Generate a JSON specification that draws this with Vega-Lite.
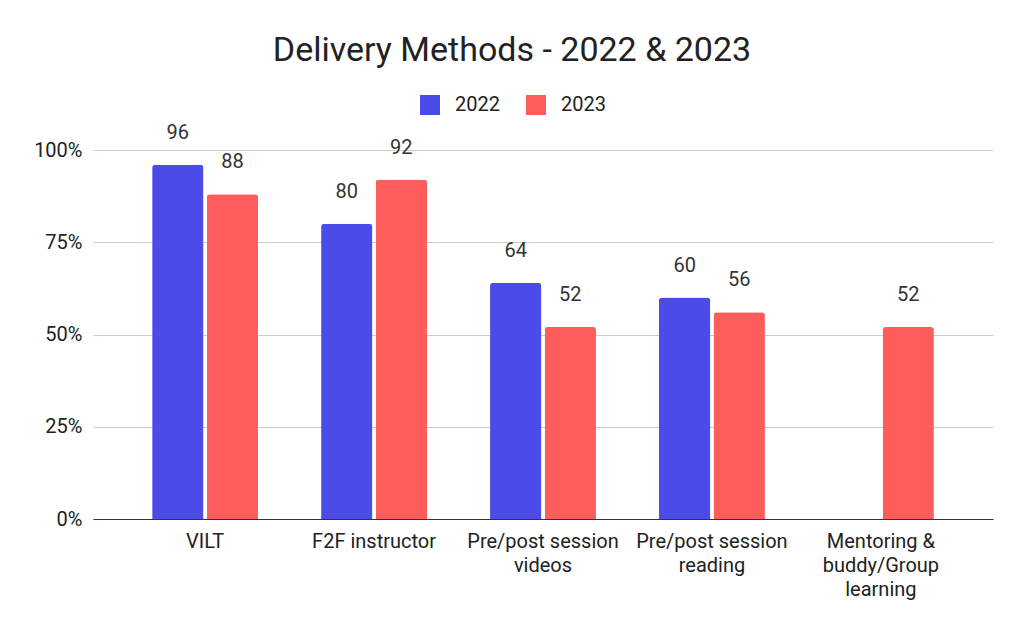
{
  "$schema": "https://vega.github.io/schema/vega-lite/v6.json",
  "width": 900,
  "height": 369,
  "autosize": {"type": "none"},
  "padding": {"left": 93, "top": 150, "right": 31, "bottom": 114},
  "config": {"font": "Roboto", "view": {"stroke": null}},
  "title": {"text": "Delivery Methods - 2022 & 2023", "fontSize": 34, "fontWeight": "normal", "color": "#222", "anchor": "middle", "frame": "group", "dx": -31, "offset": 0, "baseline": "alphabetic"},
  "data": {"values": [
    {"method": "VILT", "year": "2022", "value": 96},
    {"method": "VILT", "year": "2023", "value": 88},
    {"method": "F2F instructor", "year": "2022", "value": 80},
    {"method": "F2F instructor", "year": "2023", "value": 92},
    {"method": "Pre/post session|videos", "year": "2022", "value": 64},
    {"method": "Pre/post session|videos", "year": "2023", "value": 52},
    {"method": "Pre/post session|reading", "year": "2022", "value": 60},
    {"method": "Pre/post session|reading", "year": "2023", "value": 56},
    {"method": "Mentoring &|buddy/Group|learning", "year": "2023", "value": 52}
  ]},
  "encoding": {
    "x": {"field": "method", "type": "nominal", "sort": null,
      "scale": {"paddingInner": 0.373, "paddingOuter": 0.35},
      "axis": {"title": null, "labelAngle": 0, "labelExpr": "split(datum.label, '|')", "labelFontSize": 20, "labelColor": "#222", "ticks": false, "domainColor": "#333", "labelPadding": 12, "labelLineHeight": 24, "labelBaseline": "top", "labelLimit": 300}},
    "xOffset": {"field": "year", "type": "nominal", "scale": {"domain": ["2022", "2023"], "paddingInner": 0.06}},
    "y": {"field": "value", "type": "quantitative", "scale": {"domain": [0, 100]},
      "axis": {"title": null, "values": [0, 25, 50, 75, 100], "labelExpr": "datum.value + '%'", "labelFontSize": 20, "labelColor": "#222", "ticks": false, "domain": false, "gridColor": "#cccccc", "labelPadding": 11}}
  },
  "layer": [
    {"mark": {"type": "bar", "cornerRadiusTopLeft": 3, "cornerRadiusTopRight": 3},
     "encoding": {"color": {"field": "year", "type": "nominal",
       "scale": {"domain": ["2022", "2023"], "range": ["#4b4ce8", "#ff5c5c"]},
       "legend": {"title": null, "orient": "none", "legendX": 327, "legendY": -55, "direction": "horizontal", "symbolType": "square", "symbolSize": 400, "symbolStrokeWidth": 0, "symbolOpacity": 1, "labelFontSize": 20, "labelColor": "#222", "labelOffset": 15, "columnPadding": 26, "padding": 0}}}},
    {"mark": {"type": "text", "baseline": "alphabetic", "dy": -26, "fontSize": 20, "color": "#333"},
     "encoding": {"text": {"field": "value", "type": "quantitative"}}}
  ]
}
